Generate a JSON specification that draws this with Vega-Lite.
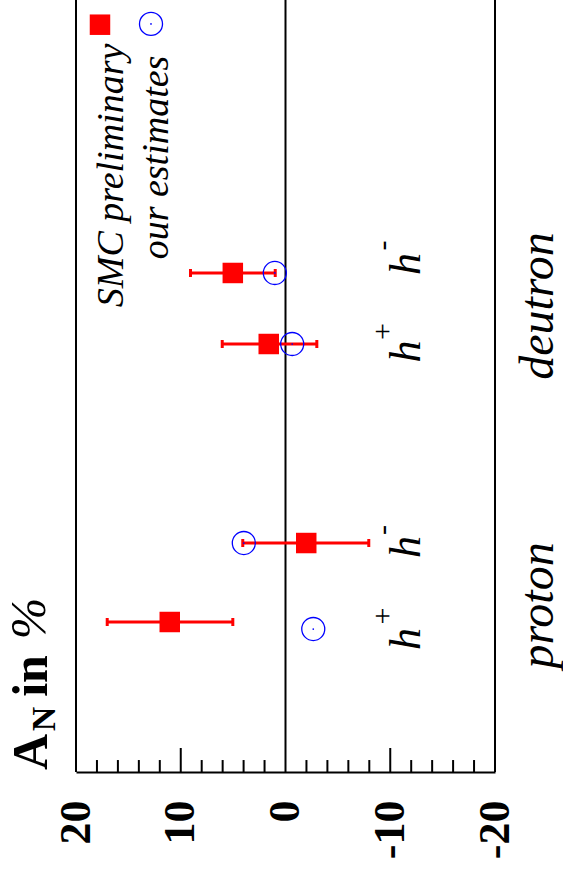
{
  "$schema": "https://vega.github.io/schema/vega-lite/v6.json",
  "width": 419,
  "height": 772,
  "autosize": {"type": "none"},
  "padding": {"left": 76, "top": 0, "right": 68, "bottom": 102},
  "background": "white",
  "config": {
    "view": {"stroke": null},
    "axisX": {"title": null, "grid": false, "tickCount": 5,
      "domain": true, "domainColor": "black", "domainWidth": 2,
      "ticks": false, "tickSize": 0,
      "labelExpr": "'' + datum.value",
      "labelAngle": 270, "labelAlign": "right", "labelBaseline": "middle",
      "labelFont": "Liberation Serif", "labelFontWeight": "bold", "labelFontSize": 44,
      "labelColor": "black", "labelPadding": 28, "labelFlush": false, "labelOverlap": false},
    "axisY": {"disable": true}
  },
  "data": {"values": [
    {"target": "proton", "hadron": "h+", "smc": 11.05, "lo": 5.03, "hi": 17.02, "est": -2.65, "pos": 1.943, "estpos": 1.852},
    {"target": "proton", "hadron": "h-", "smc": -1.98, "lo": -7.95, "hi": 4.08, "est": 3.98, "pos": 2.966, "estpos": 2.966},
    {"target": "deutron", "hadron": "h+", "smc": 1.6, "lo": -2.99, "hi": 6.04, "est": -0.64, "pos": 5.544, "estpos": 5.544},
    {"target": "deutron", "hadron": "h-", "smc": 5.03, "lo": 0.98, "hi": 9.07, "est": 1.02, "pos": 6.464, "estpos": 6.464}
  ]},
  "layer": [
    {
      "data": {"values": [{"v": 18}, {"v": 16}, {"v": 14}, {"v": 12}, {"v": 8}, {"v": 6}, {"v": 4}, {"v": 2},
        {"v": -2}, {"v": -4}, {"v": -6}, {"v": -8}, {"v": -12}, {"v": -14}, {"v": -16}, {"v": -18}]},
      "mark": {"type": "rule", "stroke": "black", "strokeWidth": 2},
      "encoding": {
        "x": {"field": "v", "type": "quantitative", "title": null,
          "scale": {"domain": [20, -20], "nice": false, "zero": false}},
        "y": {"datum": 0, "type": "quantitative", "scale": {"domain": [0, 10], "nice": false, "zero": false}},
        "y2": {"datum": 0.155}
      }
    },
    {
      "data": {"values": [{"v": 10}, {"v": -10}]},
      "mark": {"type": "rule", "stroke": "black", "strokeWidth": 2},
      "encoding": {
        "x": {"field": "v", "type": "quantitative", "title": null},
        "y": {"datum": 0, "type": "quantitative"},
        "y2": {"datum": 0.311}
      }
    },
    {
      "data": {"values": [{"v": 20}, {"v": 0}, {"v": -20}]},
      "mark": {"type": "rule", "stroke": "black", "strokeWidth": 2},
      "encoding": {
        "x": {"field": "v", "type": "quantitative", "title": null}
      }
    },
    {
      "mark": {"type": "rule", "stroke": "#ff0000", "strokeWidth": 3},
      "encoding": {
        "x": {"field": "lo", "type": "quantitative", "title": null},
        "x2": {"field": "hi"},
        "y": {"field": "pos", "type": "quantitative", "title": null}
      }
    },
    {
      "mark": {"type": "tick", "orient": "vertical", "color": "#ff0000", "size": 8, "thickness": 3, "opacity": 1},
      "encoding": {
        "x": {"field": "lo", "type": "quantitative", "title": null},
        "y": {"field": "pos", "type": "quantitative", "title": null}
      }
    },
    {
      "mark": {"type": "tick", "orient": "vertical", "color": "#ff0000", "size": 8, "thickness": 3, "opacity": 1},
      "encoding": {
        "x": {"field": "hi", "type": "quantitative", "title": null},
        "y": {"field": "pos", "type": "quantitative", "title": null}
      }
    },
    {
      "mark": {"type": "point", "shape": "square", "filled": true, "color": "#ff0000", "size": 420, "opacity": 1, "strokeWidth": 0},
      "encoding": {
        "x": {"field": "smc", "type": "quantitative", "title": null},
        "y": {"field": "pos", "type": "quantitative", "title": null}
      }
    },
    {
      "mark": {"type": "point", "shape": "circle", "filled": false, "stroke": "#0000ff", "strokeWidth": 1.3, "size": 530, "opacity": 1},
      "encoding": {
        "x": {"field": "est", "type": "quantitative", "title": null},
        "y": {"field": "estpos", "type": "quantitative", "title": null}
      }
    },
    {
      "mark": {"type": "point", "shape": "circle", "filled": true, "color": "#0000ff", "size": 3, "opacity": 1},
      "encoding": {
        "x": {"field": "est", "type": "quantitative", "title": null},
        "y": {"field": "estpos", "type": "quantitative", "title": null}
      }
    },
    {
      "data": {"values": [{}]},
      "mark": {"type": "point", "shape": "square", "filled": true, "color": "#ff0000", "size": 420, "opacity": 1, "strokeWidth": 0},
      "encoding": {
        "x": {"datum": 17.71, "type": "quantitative"},
        "y": {"datum": 9.68, "type": "quantitative"}
      }
    },
    {
      "data": {"values": [{}]},
      "mark": {"type": "point", "shape": "circle", "filled": false, "stroke": "#0000ff", "strokeWidth": 1.3, "size": 530, "opacity": 1},
      "encoding": {
        "x": {"datum": 12.84, "type": "quantitative"},
        "y": {"datum": 9.69, "type": "quantitative"}
      }
    },
    {
      "data": {"values": [{}]},
      "mark": {"type": "point", "shape": "circle", "filled": true, "color": "#0000ff", "size": 3, "opacity": 1},
      "encoding": {
        "x": {"datum": 12.84, "type": "quantitative"},
        "y": {"datum": 9.69, "type": "quantitative"}
      }
    },
    {
      "data": {"values": [{"t": "SMC preliminary"}]},
      "mark": {"type": "text", "angle": 270, "align": "center", "baseline": "alphabetic", "font": "Liberation Serif", "fontStyle": "italic", "fontSize": 38, "color": "black"},
      "encoding": {
        "text": {"field": "t"},
        "x": {"datum": 15.51, "type": "quantitative"},
        "y": {"datum": 7.727, "type": "quantitative"}
      }
    },
    {
      "data": {"values": [{"t": "our estimates"}]},
      "mark": {"type": "text", "angle": 270, "align": "center", "baseline": "alphabetic", "font": "Liberation Serif", "fontStyle": "italic", "fontSize": 38, "color": "black"},
      "encoding": {
        "text": {"field": "t"},
        "x": {"datum": 11.22, "type": "quantitative"},
        "y": {"datum": 7.96, "type": "quantitative"}
      }
    },
    {
      "data": {"values": [{"t": "h", "p": 1.723}, {"t": "h", "p": 2.915}, {"t": "h", "p": 5.447}, {"t": "h", "p": 6.58}]},
      "mark": {"type": "text", "angle": 270, "align": "center", "baseline": "alphabetic", "font": "Liberation Serif", "fontStyle": "italic", "fontSize": 44, "color": "black"},
      "encoding": {
        "text": {"field": "t"},
        "x": {"datum": -12.84, "type": "quantitative"},
        "y": {"field": "p", "type": "quantitative", "title": null}
      }
    },
    {
      "data": {"values": [{"t": "+", "p": 2.021}, {"t": "+", "p": 5.706}, {"t": "-", "p": 3.135}, {"t": "-", "p": 6.82}]},
      "mark": {"type": "text", "angle": 270, "align": "center", "baseline": "middle", "font": "Liberation Serif", "fontSize": 30, "color": "black"},
      "encoding": {
        "text": {"field": "t"},
        "x": {"datum": -9.3, "type": "quantitative"},
        "y": {"field": "p", "type": "quantitative", "title": null}
      }
    },
    {
      "data": {"values": [{"t": "proton", "p": 2.157}, {"t": "deutron", "p": 6.036}]},
      "mark": {"type": "text", "angle": 270, "align": "center", "baseline": "alphabetic", "font": "Liberation Serif", "fontStyle": "italic", "fontSize": 48, "color": "black"},
      "encoding": {
        "text": {"field": "t"},
        "x": {"datum": -25.54, "type": "quantitative"},
        "y": {"field": "p", "type": "quantitative", "title": null}
      }
    },
    {
      "data": {"values": [{"t": "A"}]},
      "mark": {"type": "text", "angle": 270, "align": "center", "baseline": "alphabetic", "font": "Liberation Serif", "fontWeight": "bold", "fontSize": 50, "color": "black"},
      "encoding": {
        "text": {"field": "t"},
        "x": {"datum": 22.77, "type": "quantitative"},
        "y": {"datum": 0.259, "type": "quantitative"}
      }
    },
    {
      "data": {"values": [{"t": "N"}]},
      "mark": {"type": "text", "angle": 270, "align": "center", "baseline": "alphabetic", "font": "Liberation Serif", "fontWeight": "bold", "fontSize": 34, "color": "black"},
      "encoding": {
        "text": {"field": "t"},
        "x": {"datum": 22.0, "type": "quantitative"},
        "y": {"datum": 0.687, "type": "quantitative"}
      }
    },
    {
      "data": {"values": [{"t": "in"}]},
      "mark": {"type": "text", "angle": 270, "align": "center", "baseline": "alphabetic", "font": "Liberation Serif", "fontWeight": "bold", "fontSize": 50, "color": "black"},
      "encoding": {
        "text": {"field": "t"},
        "x": {"datum": 22.77, "type": "quantitative"},
        "y": {"datum": 1.244, "type": "quantitative"}
      }
    },
    {
      "data": {"values": [{"t": "%"}]},
      "mark": {"type": "text", "angle": 270, "align": "center", "baseline": "alphabetic", "font": "Liberation Serif", "fontStyle": "italic", "fontSize": 50, "color": "black"},
      "encoding": {
        "text": {"field": "t"},
        "x": {"datum": 22.96, "type": "quantitative"},
        "y": {"datum": 1.99, "type": "quantitative"}
      }
    }
  ]
}
